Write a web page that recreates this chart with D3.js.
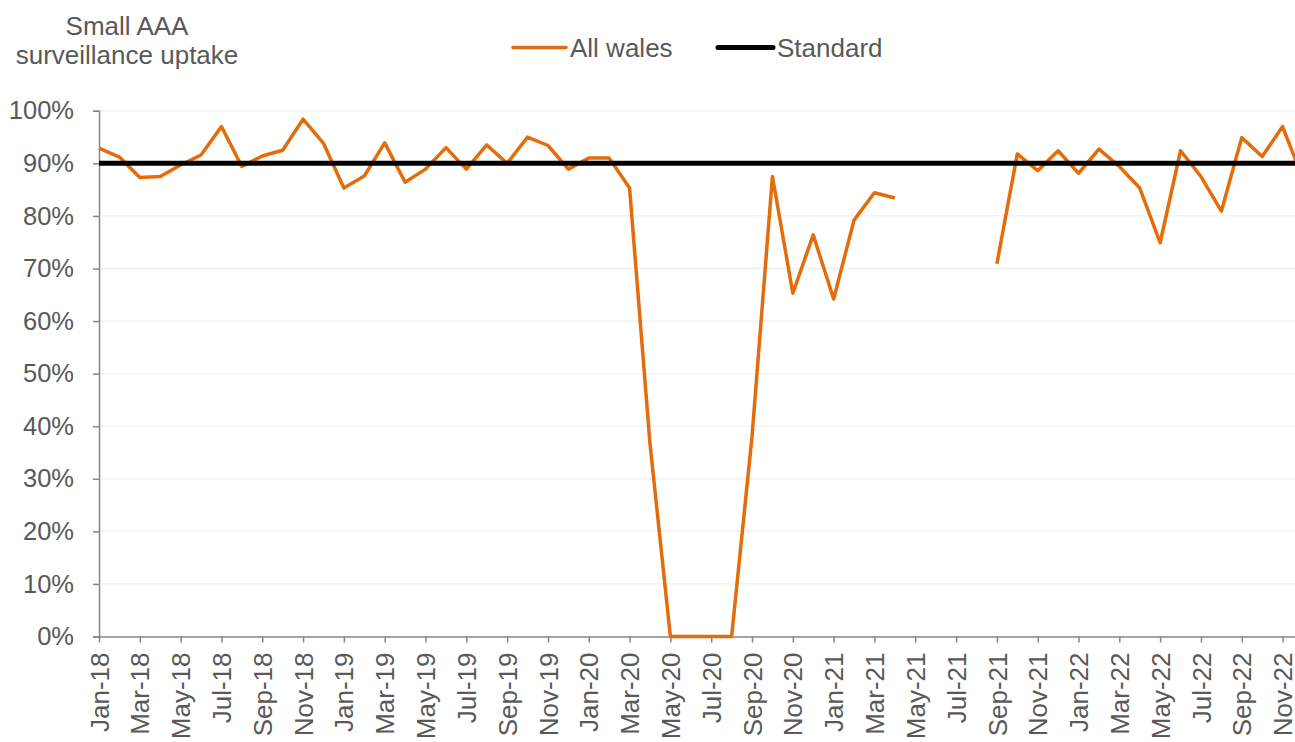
<!DOCTYPE html>
<html>
<head>
<meta charset="utf-8">
<title>Small AAA surveillance uptake</title>
<script src="https://d3js.org/d3.v7.min.js"></script>
<style>
  body { margin: 0; background: #fff; }
  text { font-family: "Liberation Sans", Arial, sans-serif; fill: #595959; }
</style>
</head>
<body>
<div id="chart"></div>
<script>
// months Jan-18 .. Dec-22
const months = [
  "Jan-18","Feb-18","Mar-18","Apr-18","May-18","Jun-18","Jul-18","Aug-18","Sep-18","Oct-18","Nov-18","Dec-18",
  "Jan-19","Feb-19","Mar-19","Apr-19","May-19","Jun-19","Jul-19","Aug-19","Sep-19","Oct-19","Nov-19","Dec-19",
  "Jan-20","Feb-20","Mar-20","Apr-20","May-20","Jun-20","Jul-20","Aug-20","Sep-20","Oct-20","Nov-20","Dec-20",
  "Jan-21","Feb-21","Mar-21","Apr-21","May-21","Jun-21","Jul-21","Aug-21","Sep-21","Oct-21","Nov-21","Dec-21",
  "Jan-22","Feb-22","Mar-22","Apr-22","May-22","Jun-22","Jul-22","Aug-22","Sep-22","Oct-22","Nov-22","Dec-22"
];

// All wales uptake (%), null = no data
const allWales = [
  92.9, 91.2, 87.3, 87.5, 89.7, 91.6, 97.0, 89.4, 91.4, 92.5, 98.4, 93.8,
  85.3, 87.6, 93.9, 86.4, 88.9, 93.0, 88.9, 93.5, 90.0, 95.0, 93.4, 88.9,
  91.0, 91.0, 85.3, 36.7, 0, 0, 0, 0, 38.0, 87.5, 65.3, 76.4,
  64.2, 79.2, 84.4, 83.4, null, null, null, null, 70.9, 91.8, 88.6, 92.4,
  88.1, 92.7, 89.4, 85.3, 74.9, 92.4, 87.5, 80.9, 94.9, 91.3, 97.0, 87.0
];

const standard = 90;

const yTicks = [0, 10, 20, 30, 40, 50, 60, 70, 80, 90, 100];
const seriesNames = ["All wales", "Standard"];
const seriesColors = ["#e46c0a", "#000000"];

const W = 1295, H = 742;
const plotLeft = 99, plotRight = 1303, plotTop = 110.8, plotBottom = 636.5;

const svg = d3.select("#chart").append("svg")
  .attr("width", W)
  .attr("height", H);

const x = d3.scalePoint().domain(months).range([plotLeft, plotRight]).padding(0);
const y = d3.scaleLinear().domain([0, 100]).range([plotBottom, plotTop]);

// gridlines
svg.append("g")
  .selectAll("line")
  .data(yTicks.filter(d => d > 0))
  .join("line")
    .attr("x1", plotLeft)
    .attr("x2", plotRight)
    .attr("y1", d => y(d))
    .attr("y2", d => y(d))
    .attr("stroke", "#f0f0f0")
    .attr("stroke-width", 1.3);

// y axis
const yAxis = svg.append("g")
  .attr("transform", "translate(" + plotLeft + ",0)")
  .call(d3.axisLeft(y).tickValues(yTicks).tickSize(6).tickPadding(19).tickFormat(d => d + "%"));
yAxis.select(".domain").attr("stroke", "#868686").attr("stroke-width", 1.5);
yAxis.selectAll(".tick line").attr("stroke", "#868686").attr("stroke-width", 1.5);
yAxis.selectAll(".tick text")
  .style("font-size", "25.5px")
  .attr("fill", "#595959");

// x axis
const xAxis = svg.append("g")
  .attr("transform", "translate(0," + plotBottom + ")")
  .call(d3.axisBottom(x).tickValues(months.filter((m, i) => i % 2 === 0)).tickSize(6).tickSizeOuter(0));
xAxis.select(".domain").attr("stroke", "#868686").attr("stroke-width", 1.5);
xAxis.selectAll(".tick line").attr("stroke", "#868686").attr("stroke-width", 1.5);
xAxis.selectAll(".tick text")
  .attr("transform", "rotate(-90)")
  .attr("text-anchor", "end")
  .attr("x", -16)
  .attr("y", 0)
  .attr("dy", "0.35em")
  .style("font-size", "26px")
  .attr("fill", "#595959");

// All wales line
const line = d3.line()
  .defined(d => d[1] !== null)
  .x(d => x(d[0]))
  .y(d => y(d[1]));

svg.append("path")
  .datum(months.map((m, i) => [m, allWales[i]]))
  .attr("fill", "none")
  .attr("stroke", seriesColors[0])
  .attr("stroke-width", 3.5)
  .attr("stroke-linejoin", "round")
  .attr("d", line);

// Standard line
svg.append("path")
  .datum(months.map(m => [m, standard]))
  .attr("fill", "none")
  .attr("stroke", seriesColors[1])
  .attr("stroke-width", 5)
  .attr("d", line);

// title
const title = svg.append("text")
  .attr("text-anchor", "middle")
  .style("font-size", "26px");
title.append("tspan").attr("x", 127).attr("y", 35).text("Small AAA");
title.append("tspan").attr("x", 127).attr("y", 64).text("surveillance uptake");

// legend
const legendPos = [{x1: 513, x2: 566, w: 3.5}, {x1: 718, x2: 773, w: 5}];
seriesNames.forEach((name, i) => {
  const p = legendPos[i];
  svg.append("line")
    .attr("x1", p.x1).attr("x2", p.x2)
    .attr("y1", 47.5).attr("y2", 47.5)
    .attr("stroke", seriesColors[i])
    .attr("stroke-width", p.w)
    .attr("stroke-linecap", "round");
  svg.append("text")
    .attr("x", p.x2 + 4)
    .attr("y", 47.5)
    .attr("dy", "0.35em")
    .style("font-size", "26px")
    .text(name);
});
</script>
</body>
</html>
